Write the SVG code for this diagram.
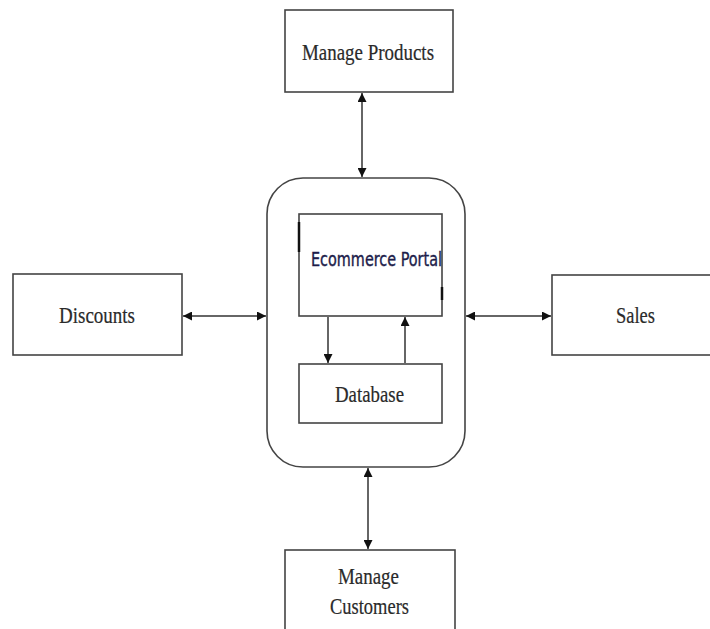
<svg xmlns="http://www.w3.org/2000/svg" width="710" height="629" viewBox="0 0 710 629">
<style>
.box{fill:#fff;stroke:#444;stroke-width:1.6}
.lbl{font-family:"Liberation Serif","Times New Roman",serif;font-size:23px;fill:#2a2a2a;stroke:#2a2a2a;stroke-width:0.2;text-anchor:start}
.con{stroke:#333;stroke-width:1.5;fill:none}
</style>
<defs>
<marker id="ah" viewBox="0 0 10 10" refX="10" refY="5" markerWidth="9" markerHeight="9" markerUnits="userSpaceOnUse" orient="auto-start-reverse">
<path d="M0,0 L10,5 L0,10 z" fill="#111"/>
</marker>
</defs>
<rect width="710" height="629" fill="#fff"/>
<g id="manage-products">
<rect class="box" x="285" y="10" width="168" height="82"/>
<text class="lbl" x="302" y="60" textLength="132" lengthAdjust="spacingAndGlyphs">Manage Products</text>
</g>
<g id="portal-container">
<rect class="box" x="267" y="178" width="198" height="289" rx="36" ry="36"/>
</g>
<g id="ecommerce-portal">
<rect class="box" x="299" y="214" width="143" height="102"/>
<line x1="299" y1="222" x2="299" y2="252" stroke="#111" stroke-width="2.5"/>
<line x1="442" y1="287" x2="442" y2="300" stroke="#111" stroke-width="2.5"/>
<text x="311" y="266" font-family="'Liberation Sans Narrow','DejaVu Sans Condensed','Liberation Sans',sans-serif" font-size="19" fill="#1c1c4a" stroke="#1c1c4a" stroke-width="0.35" textLength="131" lengthAdjust="spacingAndGlyphs">Ecommerce Portal</text>
</g>
<g id="database">
<rect class="box" x="299" y="364" width="143" height="59"/>
<text class="lbl" x="335" y="402" textLength="69" lengthAdjust="spacingAndGlyphs">Database</text>
</g>
<g id="discounts">
<rect class="box" x="13" y="274" width="169" height="81"/>
<text class="lbl" x="59" y="323" textLength="76" lengthAdjust="spacingAndGlyphs">Discounts</text>
</g>
<g id="sales">
<rect class="box" x="552" y="275" width="170" height="80"/>
<text class="lbl" x="616" y="323" textLength="39" lengthAdjust="spacingAndGlyphs">Sales</text>
</g>
<g id="manage-customers">
<rect class="box" x="285" y="550" width="170" height="90"/>
<text class="lbl" x="338" y="584" textLength="61" lengthAdjust="spacingAndGlyphs">Manage</text>
<text class="lbl" x="330" y="614" textLength="79" lengthAdjust="spacingAndGlyphs">Customers</text>
</g>
<g id="connectors">
<line class="con" x1="362" y1="93" x2="362" y2="177" marker-start="url(#ah)" marker-end="url(#ah)"/>
<line class="con" x1="183" y1="316" x2="266" y2="316" marker-start="url(#ah)" marker-end="url(#ah)"/>
<line class="con" x1="466" y1="316" x2="551" y2="316" marker-start="url(#ah)" marker-end="url(#ah)"/>
<line class="con" x1="368" y1="468" x2="368" y2="549" marker-start="url(#ah)" marker-end="url(#ah)"/>
<line class="con" x1="328" y1="317" x2="328" y2="363" marker-end="url(#ah)"/>
<line class="con" x1="405" y1="363" x2="405" y2="317" marker-end="url(#ah)"/>
</g>
</svg>
